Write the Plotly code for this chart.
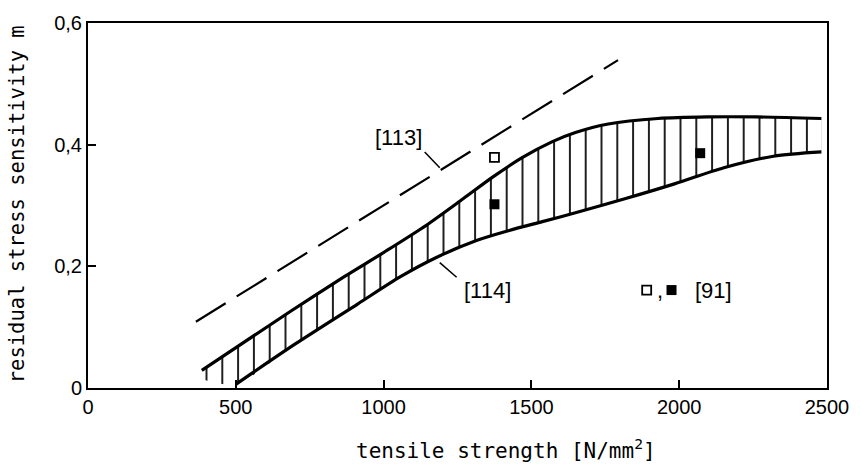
import plotly.graph_objects as go

# ---- data ----
upper_x = [385, 688, 867, 1001, 1146, 1269, 1370, 1470, 1571, 1649, 1760, 1928, 2095, 2263, 2481]
upper_y = [0.029, 0.127, 0.183, 0.223, 0.268, 0.311, 0.347, 0.379, 0.405, 0.420, 0.434, 0.443, 0.4456, 0.4456, 0.443]

lower_x = [500, 700, 912, 1057, 1180, 1314, 1425, 1537, 1649, 1816, 1984, 2151, 2319, 2481]
lower_y = [0.006, 0.072, 0.138, 0.183, 0.215, 0.2425, 0.259, 0.2735, 0.288, 0.311, 0.3355, 0.362, 0.381, 0.388]

# hatch floor left of where the lower curve starts
floor_x = [395]
floor_y = [0.013]

ref113_x = [365, 1793]
ref113_y = [0.109, 0.539]

open_x = [1375]
open_y = [0.379]
filled_x = [1375, 2071]
filled_y = [0.302, 0.386]

x_ticks = [0, 500, 1000, 1500, 2000, 2500]
x_ticktext = ["0", "500", "1000", "1500", "2000", "2500"]
y_ticks = [0, 0.2, 0.4, 0.6]
y_ticktext = ["0", "0,2", "0,4", "0,6"]

# annotation anchors (label text, x, y)
labels = [("[113]", 1052, 0.412), ("[114]", 1350, 0.161), (",", 1934, 0.161), ("[91]", 2115, 0.161)]
leaders = [((1139, 0.388), (1190, 0.362)), ((1190, 0.206), (1247, 0.182))]
key_open = ([1890], [0.161])
key_filled = ([1974], [0.161])

SANS = "Liberation Sans, Arial, sans-serif"
MONO = "DejaVu Sans Mono, Liberation Mono, monospace"

fig = go.Figure()

# fill boundary (invisible)
fig.add_trace(go.Scatter(x=floor_x + lower_x, y=floor_y + lower_y, mode="lines",
                         line=dict(width=0, color="rgba(0,0,0,0)", shape="spline", smoothing=0.8),
                         hoverinfo="skip", showlegend=False))
# upper curve with vertical hatching down to the previous trace
fig.add_trace(go.Scatter(x=upper_x, y=upper_y, mode="lines",
                         line=dict(color="black", width=3.2, shape="spline", smoothing=0.8),
                         fill="tonexty", fillcolor="white",
                         fillpattern=dict(shape="|", size=15.8, solidity=0.11,
                                          fgcolor="black", bgcolor="white", fillmode="replace"),
                         showlegend=False))
# lower curve
fig.add_trace(go.Scatter(x=lower_x, y=lower_y, mode="lines",
                         line=dict(color="black", width=3.2, shape="spline", smoothing=0.8),
                         showlegend=False))
# [113] dashed line
fig.add_trace(go.Scatter(x=ref113_x, y=ref113_y, mode="lines",
                         line=dict(color="black", width=2.2, dash="35px,13px"),
                         showlegend=False))
# points [91]
fig.add_trace(go.Scatter(x=open_x + key_open[0], y=open_y + key_open[1], mode="markers",
                         marker=dict(symbol="square-open", size=9, color="black",
                                     line=dict(width=1.8, color="black")),
                         showlegend=False))
fig.add_trace(go.Scatter(x=filled_x + key_filled[0], y=filled_y + key_filled[1], mode="markers",
                         marker=dict(symbol="square", size=10, color="black",
                                     line=dict(width=0)),
                         showlegend=False))

for (x0, y0), (x1, y1) in leaders:
    fig.add_shape(type="line", x0=x0, y0=y0, x1=x1, y1=y1, xref="x", yref="y",
                  line=dict(color="black", width=1.5))

for txt, x, y in labels:
    fig.add_annotation(x=x, y=y, text=txt, showarrow=False, xanchor="center", yanchor="middle",
                       font=dict(family=SANS, size=22, color="black"))

# axis titles
fig.add_annotation(xref="paper", yref="paper", x=0.566, y=-0.166,
                   text="tensile strength [N/mm<sup>2</sup>]", showarrow=False,
                   xanchor="center", yanchor="middle",
                   font=dict(family=MONO, size=21, color="black"))
fig.add_annotation(xref="paper", yref="paper", x=-0.0958, y=0.504,
                   text="residual stress sensitivity m", showarrow=False, textangle=-90,
                   xanchor="center", yanchor="middle",
                   font=dict(family=MONO, size=20.5, color="black"))

fig.update_xaxes(range=[0, 2500], tickvals=x_ticks, ticktext=x_ticktext,
                 ticks="inside", ticklen=8, tickwidth=2, tickcolor="black",
                 showline=True, linewidth=2, linecolor="black", mirror=True,
                 showgrid=False, zeroline=False, ticklabeloverflow="allow",
                 tickfont=dict(family=SANS, size=20, color="black"))
fig.update_yaxes(range=[0, 0.6], tickvals=y_ticks, ticktext=y_ticktext,
                 ticks="inside", ticklen=8, tickwidth=2, tickcolor="black",
                 showline=True, linewidth=2, linecolor="black", mirror=True,
                 showgrid=False, zeroline=False, ticklabeloverflow="allow",
                 tickfont=dict(family=SANS, size=20, color="black"))

fig.update_layout(width=861, height=468, margin=dict(l=88, r=27, t=14, b=80),
                  paper_bgcolor="white", plot_bgcolor="white", showlegend=False)

fig.write_html("out.html")
